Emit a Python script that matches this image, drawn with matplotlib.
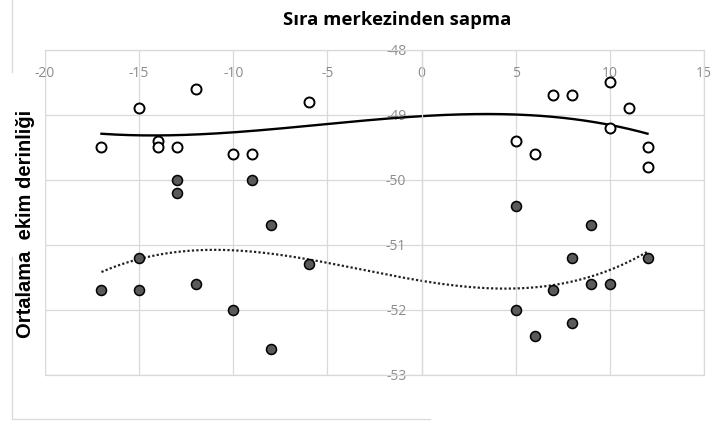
import numpy as np
import matplotlib
matplotlib.use("Agg")
import matplotlib.pyplot as plt
from matplotlib.lines import Line2D

# ---- data ----
open_x = [-17, -15, -14, -14, -13, -12, -10, -9, -6, 5, 6, 7, 8, 10, 10, 11, 12, 12]
open_y = [-49.5, -48.9, -49.4, -49.5, -49.5, -48.6, -49.6, -49.6, -48.8,
          -49.4, -49.6, -48.7, -48.7, -48.5, -49.2, -48.9, -49.5, -49.8]

filled_x = [-17, -15, -15, -13, -13, -12, -10, -9, -8, -8, -6,
            5, 5, 6, 7, 8, 8, 9, 9, 10, 12]
filled_y = [-51.7, -51.2, -51.7, -50.0, -50.2, -51.6, -52.0, -50.0, -50.7, -52.6, -51.3,
            -50.4, -52.0, -52.4, -51.7, -51.2, -52.2, -50.7, -51.6, -51.6, -51.2]

x_ticks = [-20, -15, -10, -5, 0, 5, 10, 15]
y_ticks = [-53, -52, -51, -50, -49, -48]

title = "Sıra merkezinden sapma"
ylabel = "Ortalama  ekim derinliği"

W, H = 726, 424
fig = plt.figure(figsize=(W / 100, H / 100), dpi=100)
# plot area in pixels: left 45, right 704, top 50, bottom 375
ax = fig.add_axes([45 / W, 1 - 375 / H, (704 - 45) / W, (375 - 50) / H])

grid_c = "#d9d9d9"
tick_c = "#8c8c8c"

ax.set_xlim(-20, 15)
ax.set_ylim(-53, -48)
ax.set_xticks(x_ticks)
ax.set_yticks(y_ticks)
ax.grid(True, color=grid_c, linewidth=0.9, zorder=0)
ax.set_axisbelow(True)

for s in ["top", "right", "bottom"]:
    ax.spines[s].set_color(grid_c)
    ax.spines[s].set_linewidth(0.9)
ax.spines["left"].set_position(("data", 0))
ax.spines["left"].set_color(grid_c)
ax.spines["left"].set_linewidth(0.9)
# left frame line at x=-20
ax.axvline(-20, color=grid_c, linewidth=0.9, zorder=0)

ax.xaxis.tick_top()
ax.tick_params(axis="x", top=True, bottom=False, labeltop=True, labelbottom=False,
               length=0, pad=-22, labelsize=10, labelcolor=tick_c)
ax.tick_params(axis="y", length=0, pad=11, labelsize=10, labelcolor=tick_c)
ax.set_xticklabels([str(v) for v in x_ticks])
ax.set_yticklabels([str(v) for v in y_ticks])
for lab in ax.get_xticklabels() + ax.get_yticklabels():
    lab.set_fontfamily("Open Sans")

# scatter points
ax.plot(open_x, open_y, linestyle="none", marker="o", markersize=7.2,
        markerfacecolor="white", markeredgecolor="black", markeredgewidth=1.4, zorder=3)
ax.plot(filled_x, filled_y, linestyle="none", marker="o", markersize=7.2,
        markerfacecolor="#5a5a5a", markeredgecolor="black", markeredgewidth=1.1, zorder=3)

# polynomial trendlines (least-squares fits of the data, as in the spreadsheet)
xo = np.linspace(min(open_x), max(open_x), 200)
co = np.polyfit(open_x, open_y, 3)
ax.plot(xo, np.polyval(co, xo), color="black", linewidth=1.7, zorder=2)

xf = np.linspace(min(filled_x), max(filled_x), 200)
cf = np.polyfit(filled_x, filled_y, 3)
ax.plot(xf, np.polyval(cf, xf), color="#222222", linewidth=1.6,
        linestyle=(0, (1, 1.0)), zorder=2)

# title and y label
fig.text(397 / W, 1 - 20 / H, title, ha="center", va="center",
         fontsize=13.3, fontweight="bold", fontfamily="Open Sans", color="black")
fig.text(26 / W, 1 - 224 / H, ylabel, ha="center", va="center", rotation=90,
         fontsize=14.5, fontweight="bold", fontfamily="Liberation Sans", color="black")

# chart-area border fragments
fig.add_artist(Line2D([12 / W, 12 / W], [1, 1 - 72 / H], color=grid_c, linewidth=0.9))
fig.add_artist(Line2D([12 / W, 12 / W], [1 - 257 / H, 1 - 419 / H], color=grid_c, linewidth=0.9))
fig.add_artist(Line2D([12 / W, 430 / W], [1 - 419 / H, 1 - 419 / H], color=grid_c, linewidth=0.9))

fig.savefig("out.png", dpi=100)
